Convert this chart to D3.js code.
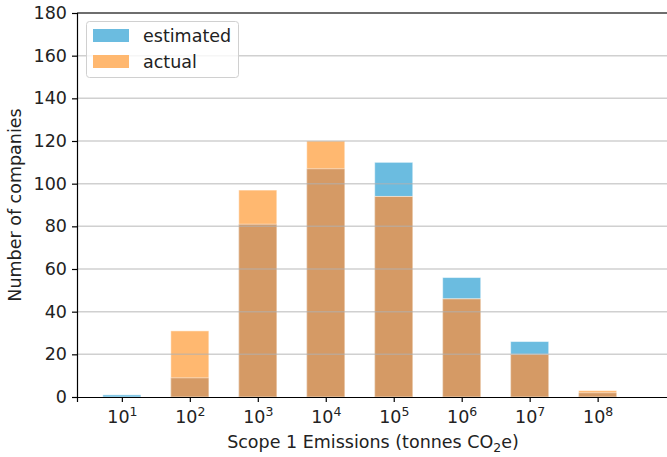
<!DOCTYPE html>
<html>
<head>
<meta charset="utf-8">
<script src="https://cdn.jsdelivr.net/npm/d3@7"></script>
<style>
  html, body { margin: 0; padding: 0; background: #fff; }
  svg { display: block; font-family: "DejaVu Sans", sans-serif; }
</style>
</head>
<body>
<svg id="chart" width="667" height="457"></svg>
<script>
// Histogram bins: log10 of Scope 1 emissions (bin centres)
const binExponents = [1, 2, 3, 4, 5, 6, 7, 8];
const estimatedCounts = [1, 9, 81, 107, 110, 56, 26, 2];
const actualCounts = [0, 31, 97, 120, 94, 46, 20, 3];
const yTicks = [0, 20, 40, 60, 80, 100, 120, 140, 160, 180];
const seriesNames = ["estimated", "actual"];

const colors = { estimated: "#6bbce0", actual: "#ffb870", both: "#d59a65" };
const FS = 17.5;

const svg = d3.select("#chart");
const margin = { left: 77, top: 13, bottom: 397 };
const binWidth = 0.56; // in decades

const x = d3.scaleLinear().domain([0.34, 9.3]).range([margin.left, 686]);
const y = d3.scaleLinear().domain([0, 180]).range([margin.bottom, margin.top]);

const bars = binExponents.map((e, i) => ({
  e, est: estimatedCounts[i], act: actualCounts[i]
}));

const g = svg.append("g");

function drawLayer(valueFn, color) {
  g.selectAll(null).data(bars.filter(d => valueFn(d) > 0)).join("rect")
    .attr("x", d => x(d.e - binWidth / 2))
    .attr("width", d => x(d.e + binWidth / 2) - x(d.e - binWidth / 2))
    .attr("y", d => y(valueFn(d)))
    .attr("height", d => y(0) - y(valueFn(d)))
    .attr("fill", color)
    .attr("stroke", "#fff")
    .attr("stroke-opacity", 0.5)
    .attr("stroke-width", 1);
}
drawLayer(d => d.est, colors.estimated);
drawLayer(d => d.act, colors.actual);
drawLayer(d => Math.min(d.est, d.act), colors.both);

// Horizontal grid on top of bars
svg.append("g").selectAll("line").data(yTicks.slice(1)).join("line")
  .attr("x1", margin.left).attr("x2", 667)
  .attr("y1", d => y(d)).attr("y2", d => y(d))
  .attr("stroke", "#b0b0b0").attr("stroke-opacity", 0.6).attr("stroke-width", 1.5);

// Axes
const yAxis = d3.axisLeft(y).tickValues(yTicks).tickSize(5).tickPadding(5);
const yG = svg.append("g").attr("transform", `translate(${margin.left},0)`).call(yAxis);
yG.select(".domain").attr("stroke", "#000").attr("stroke-width", 1.2);
yG.selectAll(".tick line").attr("stroke", "#000").attr("stroke-width", 1.2);
yG.selectAll(".tick text").attr("font-size", FS).attr("fill", "#222")
  .attr("font-family", "DejaVu Sans, sans-serif");

const xAxis = d3.axisBottom(x).tickValues(binExponents).tickSize(5).tickPadding(6).tickFormat("");
const xG = svg.append("g").attr("transform", `translate(0,${margin.bottom})`).call(xAxis);
xG.select(".domain").attr("stroke", "#000").attr("stroke-width", 1.2);
xG.selectAll(".tick line").attr("stroke", "#000").attr("stroke-width", 1.2);
xG.selectAll(".tick").append("text")
  .attr("y", 26).attr("text-anchor", "middle").attr("font-size", FS).attr("fill", "#222")
  .attr("font-family", "DejaVu Sans, sans-serif")
  .each(function (d) {
    const t = d3.select(this);
    t.append("tspan").text("10");
    t.append("tspan").attr("font-size", 12.5).attr("dy", -7).text(d);
  });

// Top spine
svg.append("line").attr("x1", margin.left).attr("x2", 667)
  .attr("y1", margin.top).attr("y2", margin.top)
  .attr("stroke", "#000").attr("stroke-width", 1.2);

// Axis labels
svg.append("text")
  .attr("transform", `translate(21,${(margin.top + margin.bottom) / 2}) rotate(-90)`)
  .attr("text-anchor", "middle").attr("font-size", FS).attr("fill", "#222")
  .text("Number of companies");

const xl = svg.append("text").attr("x", 373).attr("y", 448)
  .attr("text-anchor", "middle").attr("font-size", FS).attr("fill", "#222");
xl.append("tspan").text("Scope 1 Emissions (tonnes CO");
xl.append("tspan").attr("font-size", 12.5).attr("dy", 4).text("2");
xl.append("tspan").attr("dy", -4).text("e)");

// Legend
const leg = svg.append("g");
leg.append("rect").attr("x", 86.5).attr("y", 21.5).attr("width", 152).attr("height", 56)
  .attr("rx", 3).attr("fill", "#fff").attr("fill-opacity", 0.8)
  .attr("stroke", "#d0d0d0").attr("stroke-width", 1);
seriesNames.forEach((name, i) => {
  leg.append("rect").attr("x", 93).attr("y", 29 + i * 26).attr("width", 36).attr("height", 13)
    .attr("fill", colors[name]);
  leg.append("text").attr("x", 143).attr("y", 42 + i * 26)
    .attr("font-size", FS).attr("fill", "#222").text(name);
});
</script>
</body>
</html>
